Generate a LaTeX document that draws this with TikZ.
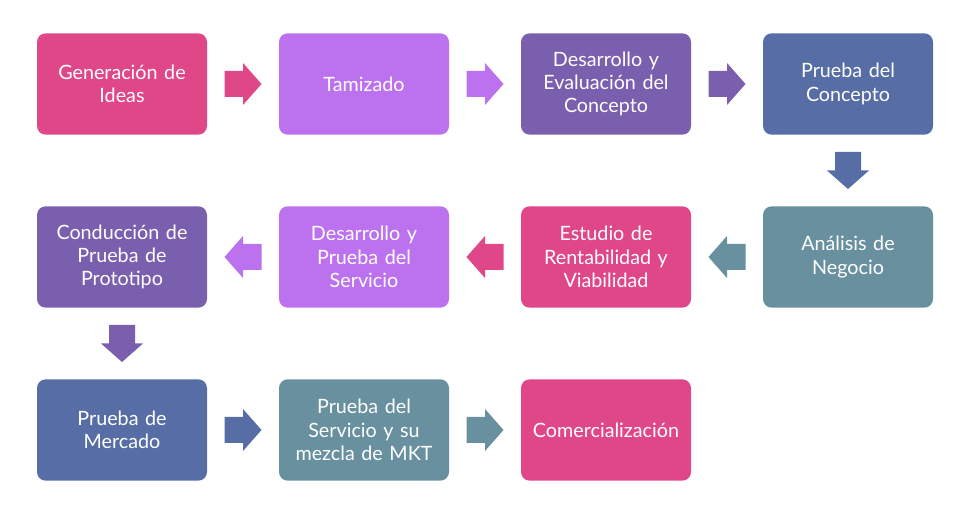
\documentclass[tikz,border=0pt]{standalone}
\usepackage{fontspec}
\setmainfont{Lato}
\usetikzlibrary{calc}
\definecolor{cpink}{HTML}{DF4788}
\definecolor{clilac}{HTML}{BC72EE}
\definecolor{cpurp}{HTML}{7A5FAF}
\definecolor{cblue}{HTML}{576DA6}
\definecolor{cteal}{HTML}{68909E}
\begin{document}
\begin{tikzpicture}[x=0.75pt,y=-0.75pt,
  box/.style={rounded corners=6.5pt, minimum width=127.5pt, minimum height=76pt,
    text width=122pt, align=center, inner sep=0pt, text=white,
    font=\fontsize{14.8}{17.4}\selectfont},
  blockarrow/.pic={\fill (-18.5,-13) -- (0,-13) -- (0,-21) -- (18.5,0) -- (0,21) -- (0,13) -- (-18.5,13) -- cycle;}
]
\useasboundingbox (0,0) rectangle (954,520);
% row 1
\node[box, fill=cpink]  (n1) at (122,84)  {Generación de\\Ideas};
\node[box, fill=clilac] (n2) at (364,84)  {Tamizado};
\node[box, fill=cpurp]  (n3) at (606,84)  {Desarrollo y\\Evaluación del\\Concepto};
\node[box, fill=cblue]  (n4) at (848,84)  {Prueba del\\Concepto};
% row 2
\node[box, fill=cteal]  (n5) at (848,257) {Análisis de\\Negocio};
\node[box, fill=cpink]  (n6) at (606,257) {Estudio de\\Rentabilidad y\\Viabilidad};
\node[box, fill=clilac] (n7) at (364,257) {Desarrollo y\\Prueba del\\Servicio};
\node[box, fill=cpurp]  (n8) at (122,257) {Conducción de\\Prueba de\\Prototipo};
% row 3
\node[box, fill=cblue]  (n9)  at (122,430) {Prueba de\\Mercado};
\node[box, fill=cteal]  (n10) at (364,430) {Prueba del\\Servicio y su\\mezcla de MKT};
\node[box, fill=cpink]  (n11) at (606,430) {Comercialización};
% arrows
\pic[cpink]  at ($(n1.east)!0.5!(n2.west)$) {blockarrow};
\pic[clilac] at ($(n2.east)!0.5!(n3.west)$) {blockarrow};
\pic[cpurp]  at ($(n3.east)!0.5!(n4.west)$) {blockarrow};
\pic[cblue, rotate=-90] at ($(n4.south)!0.5!(n5.north)$) {blockarrow};
\pic[cteal, rotate=180]  at ($(n5.west)!0.5!(n6.east)$) {blockarrow};
\pic[cpink, rotate=180]  at ($(n6.west)!0.5!(n7.east)$) {blockarrow};
\pic[clilac, rotate=180] at ($(n7.west)!0.5!(n8.east)$) {blockarrow};
\pic[cpurp, rotate=-90] at ($(n8.south)!0.5!(n9.north)$) {blockarrow};
\pic[cblue]  at ($(n9.east)!0.5!(n10.west)$) {blockarrow};
\pic[cteal]  at ($(n10.east)!0.5!(n11.west)$) {blockarrow};
\end{tikzpicture}
\end{document}
